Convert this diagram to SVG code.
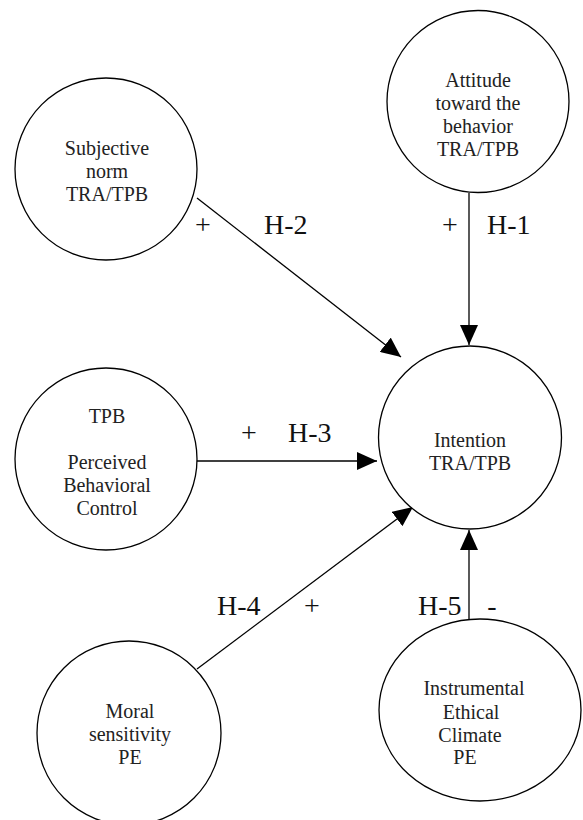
<svg xmlns="http://www.w3.org/2000/svg" width="583" height="820" viewBox="0 0 583 820">
<style>
.node { fill: #fff; stroke: #000; stroke-width: 1.3; }
.nt { font-family: "Liberation Serif", "Times New Roman", serif; font-size: 20px; fill: #222; text-anchor: middle; }
.lbl { font-family: "Liberation Serif", "Times New Roman", serif; font-size: 28px; fill: #111; }
.edge { stroke: #000; stroke-width: 1.3; fill: none; marker-end: url(#arr); }
</style>
<defs>
<marker id="arr" markerUnits="userSpaceOnUse" markerWidth="21" markerHeight="18" refX="20" refY="9" orient="auto" viewBox="0 0 21 18">
<path d="M0,0 L20,9 L0,18 z" fill="#000"/>
</marker>
</defs>
<rect width="583" height="820" fill="#fff"/>
<g id="connectors">
<line class="edge" x1="469" y1="193" x2="469" y2="345"/>
<line class="edge" x1="197" y1="198" x2="401" y2="357"/>
<line class="edge" x1="197" y1="461" x2="377" y2="461"/>
<line class="edge" x1="197" y1="669" x2="413" y2="507"/>
<line class="edge" x1="469" y1="619" x2="469" y2="530"/>
</g>
<g id="attitude">
<circle class="node" cx="478" cy="101.5" r="91"/>
<text class="nt" x="478" y="87">Attitude</text>
<text class="nt" x="478" y="110">toward the</text>
<text class="nt" x="478" y="133">behavior</text>
<text class="nt" x="478" y="156">TRA/TPB</text>
</g>
<g id="subjective">
<circle class="node" cx="106" cy="169" r="91"/>
<text class="nt" x="107" y="155">Subjective</text>
<text class="nt" x="107" y="178">norm</text>
<text class="nt" x="107" y="201">TRA/TPB</text>
</g>
<g id="intention">
<circle class="node" cx="470" cy="437.5" r="91.5"/>
<text class="nt" x="470" y="447">Intention</text>
<text class="nt" x="470" y="470">TRA/TPB</text>
</g>
<g id="pbc">
<circle class="node" cx="106" cy="459" r="91"/>
<text class="nt" x="107" y="423">TPB</text>
<text class="nt" x="107" y="469">Perceived</text>
<text class="nt" x="107" y="492">Behavioral</text>
<text class="nt" x="107" y="515">Control</text>
</g>
<g id="moral">
<circle class="node" cx="129" cy="733" r="92"/>
<text class="nt" x="130" y="718">Moral</text>
<text class="nt" x="130" y="741">sensitivity</text>
<text class="nt" x="130" y="764">PE</text>
</g>
<g id="instrumental">
<ellipse class="node" cx="480" cy="710" rx="101" ry="91"/>
<text class="nt" x="474" y="695">Instrumental</text>
<text class="nt" x="471" y="719">Ethical</text>
<text class="nt" x="470" y="742">Climate</text>
<text class="nt" x="465" y="764">PE</text>
</g>
<g id="labels">
<text class="lbl" x="203" y="234" text-anchor="middle">+</text>
<text class="lbl" x="264" y="234">H-2</text>
<text class="lbl" x="450" y="234" text-anchor="middle">+</text>
<text class="lbl" x="487" y="234">H-1</text>
<text class="lbl" x="249" y="442" text-anchor="middle">+</text>
<text class="lbl" x="288" y="442">H-3</text>
<text class="lbl" x="217" y="615">H-4</text>
<text class="lbl" x="312" y="615" text-anchor="middle">+</text>
<text class="lbl" x="418" y="615">H-5</text>
<text class="lbl" x="492" y="615" text-anchor="middle">-</text>
</g>
</svg>
